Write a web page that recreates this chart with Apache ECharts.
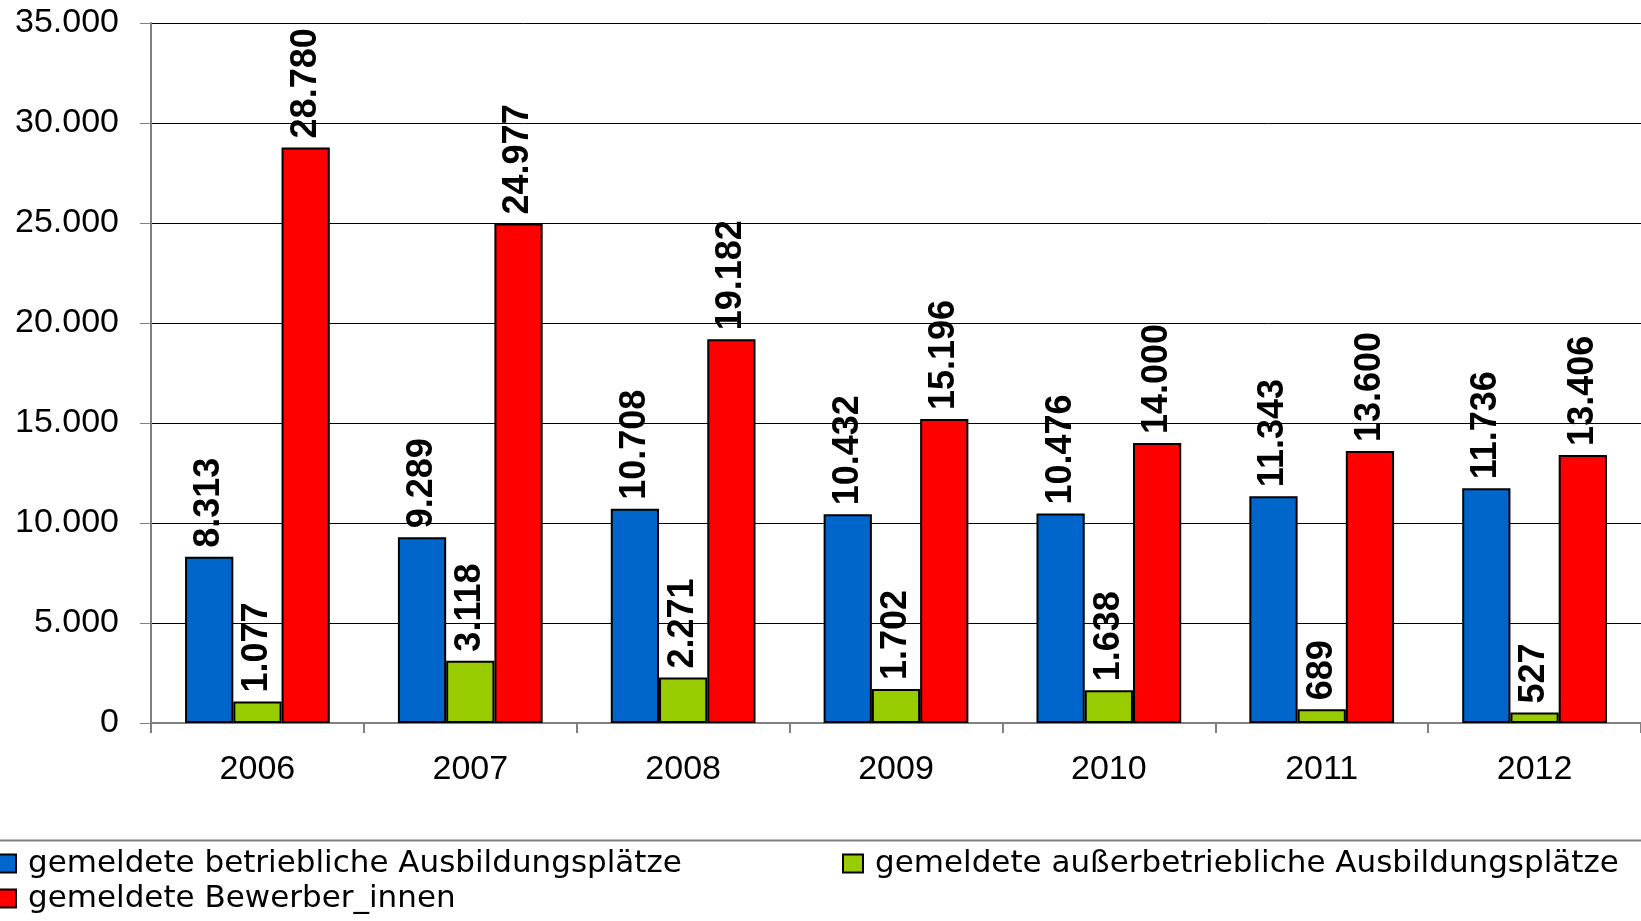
<!DOCTYPE html>
<html>
<head>
<meta charset="utf-8">
<script src="https://cdn.jsdelivr.net/npm/echarts@6/dist/echarts.min.js"></script>
<style>
  html, body { margin: 0; padding: 0; background: #fff; }
  #chart { width: 1641px; height: 921px; }
</style>
</head>
<body>
<div id="chart"></div>
<script>
  // Jahre
  var years = ['2006', '2007', '2008', '2009', '2010', '2011', '2012'];
  // gemeldete betriebliche Ausbildungsplätze
  var betrieblich = [8313, 9289, 10708, 10432, 10476, 11343, 11736];
  // gemeldete außerbetriebliche Ausbildungsplätze
  var ausserbetrieblich = [1077, 3118, 2271, 1702, 1638, 689, 527];
  // gemeldete Bewerber_innen
  var bewerber = [28780, 24977, 19182, 15196, 14000, 13600, 13406];

  var names = [
    'gemeldete betriebliche Ausbildungsplätze',
    'gemeldete außerbetriebliche Ausbildungsplätze',
    'gemeldete Bewerber_innen'
  ];

  function fmt(v) {
    return String(v).replace(/\B(?=(\d{3})+(?!\d))/g, '.');
  }

  var chart = echarts.init(document.getElementById('chart'));

  var barLabel = {
    show: true,
    position: 'top',
    rotate: 90,
    align: 'left',
    verticalAlign: 'middle',
    distance: 9,
    fontFamily: 'Liberation Sans, Arial, sans-serif',
    fontWeight: 'bold',
    fontSize: 36,
    color: '#000',
    formatter: function (p) { return fmt(p.value); }
  };

  function makeSeries(name, data, color) {
    return {
      name: name,
      type: 'bar',
      data: data,
      barGap: '0%',
      barCategoryGap: '32%',
      itemStyle: { color: color, borderColor: '#000', borderWidth: 2 },
      label: barLabel,
      emphasis: { disabled: true }
    };
  }

  var legendText = {
    fontFamily: 'DejaVu Sans, sans-serif',
    fontSize: 31,
    color: '#000',
    padding: [0, 0, 0, 7]
  };

  chart.setOption({
    animation: false,
    backgroundColor: '#fff',
    grid: { left: 151, right: -9, top: 23, bottom: 198 },
    legend: [
      {
        data: [names[0], names[2]],
        orient: 'vertical',
        left: -5,
        top: 848,
        icon: 'rect',
        itemWidth: 20,
        itemHeight: 18,
        itemGap: 4,
        padding: 0,
        itemStyle: { borderColor: '#000', borderWidth: 2 },
        textStyle: legendText
      },
      {
        data: [names[1]],
        orient: 'vertical',
        left: 842,
        top: 848,
        icon: 'rect',
        itemWidth: 20,
        itemHeight: 18,
        padding: 0,
        itemStyle: { borderColor: '#000', borderWidth: 2 },
        textStyle: legendText
      }
    ],
    graphic: [
      {
        type: 'line',
        shape: { x1: 0, y1: 840.5, x2: 1641, y2: 840.5 },
        style: { stroke: '#808080', lineWidth: 2 }
      }
    ],
    xAxis: {
      type: 'category',
      data: years,
      axisLine: { lineStyle: { color: '#808080', width: 2 } },
      axisTick: { show: true, length: 10, lineStyle: { color: '#808080', width: 2 } },
      axisLabel: {
        fontFamily: 'Liberation Sans, Arial, sans-serif',
        fontSize: 34,
        color: '#000',
        margin: 30
      }
    },
    yAxis: {
      type: 'value',
      min: 0,
      max: 35000,
      interval: 5000,
      axisLine: { show: true, lineStyle: { color: '#808080', width: 2 } },
      axisTick: { show: true, length: 11, lineStyle: { color: '#808080', width: 1 } },
      splitLine: { lineStyle: { color: '#000', width: 1 } },
      axisLabel: {
        fontFamily: 'Liberation Sans, Arial, sans-serif',
        fontSize: 34,
        color: '#000',
        margin: 32,
        formatter: function (v) { return fmt(v); }
      }
    },
    series: [
      makeSeries(names[0], betrieblich, '#0066CC'),
      makeSeries(names[1], ausserbetrieblich, '#99CC00'),
      makeSeries(names[2], bewerber, '#FF0000')
    ]
  });
</script>
</body>
</html>
